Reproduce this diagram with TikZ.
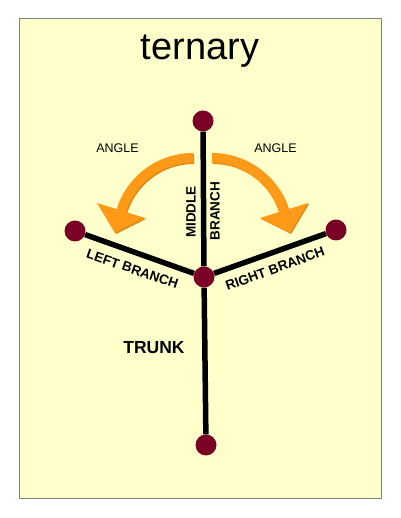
\documentclass[tikz,border=0pt]{standalone}
\usepackage{fontspec}
\setmainfont{Liberation Sans}
\definecolor{paper}{RGB}{255,255,204}
\definecolor{frame}{RGB}{128,128,128}
\definecolor{knot}{RGB}{122,0,38}
\definecolor{orng}{RGB}{255,154,24}
\definecolor{orngdark}{RGB}{222,128,16}
\begin{document}
\begin{tikzpicture}[x=1pt,y=1pt,
  knotnode/.style={circle,fill=knot,minimum size=21pt,inner sep=0pt},
  branchline/.style={line width=5.5pt,black},
  lbl/.style={font=\fontsize{12.5}{14}\selectfont,inner sep=0pt},
  blbl/.style={font=\fontsize{13.5}{15}\selectfont\bfseries,inner sep=0pt},
  arrowbody/.style={line width=10pt,orng},
  arrowhead/.style={fill=orng}
]
\useasboundingbox (0,0) rectangle (400,518);
\fill[white] (0,0) rectangle (400,518);
\draw[frame,fill=paper,line width=1pt] (19,19) rectangle (381,499);
\node[anchor=base,font=\fontsize{38}{40}\selectfont,inner sep=0pt] (title) at (200,458) {ternary};
% arrows (shadow)
\begin{scope}[shift={(1,-1)}]
\draw[line width=10pt,orngdark] (193,360) arc[start angle=90,end angle=166,radius=75];
\fill[orngdark] (97,315) -- (145,300) -- (115,285) -- cycle;
\draw[line width=10pt,orngdark] (212,360) arc[start angle=90,end angle=14,radius=75];
\fill[orngdark] (308,315) -- (260,300) -- (290,285) -- cycle;
\end{scope}
\draw[arrowbody] (193,360) arc[start angle=90,end angle=166,radius=75];
\fill[arrowhead] (97,315) -- (145,300) -- (115,285) -- cycle;
\draw[arrowbody] (212,360) arc[start angle=90,end angle=14,radius=75];
\fill[arrowhead] (308,315) -- (260,300) -- (290,285) -- cycle;
% knots
\node[knotnode] (t) at (203,397) {};
\node[knotnode] (c) at (204,241) {};
\node[knotnode] (l) at (75,287) {};
\node[knotnode] (r) at (336,288) {};
\node[knotnode] (b) at (206,73) {};
\draw[branchline] (c) -- (t);
\draw[branchline] (c) -- (l);
\draw[branchline] (c) -- (r);
\draw[branchline] (c) -- (b);
% labels
\node[lbl,anchor=base] (a1) at (117.5,365) {ANGLE};
\node[lbl,anchor=base] (a2) at (275.5,365) {ANGLE};
\node[blbl,rotate=90] (mid) at (191,306) {MIDDLE};
\node[blbl,rotate=90] (mbr) at (215,307) {BRANCH};
\node[blbl,rotate=-19] (lb) at (132.5,249) {LEFT BRANCH};
\node[blbl,rotate=20] (rb) at (275,249.5) {RIGHT BRANCH};
\node[font=\fontsize{17.5}{19}\selectfont\bfseries,inner sep=0pt] (trunk) at (154,170) {TRUNK};
\end{tikzpicture}
\end{document}
